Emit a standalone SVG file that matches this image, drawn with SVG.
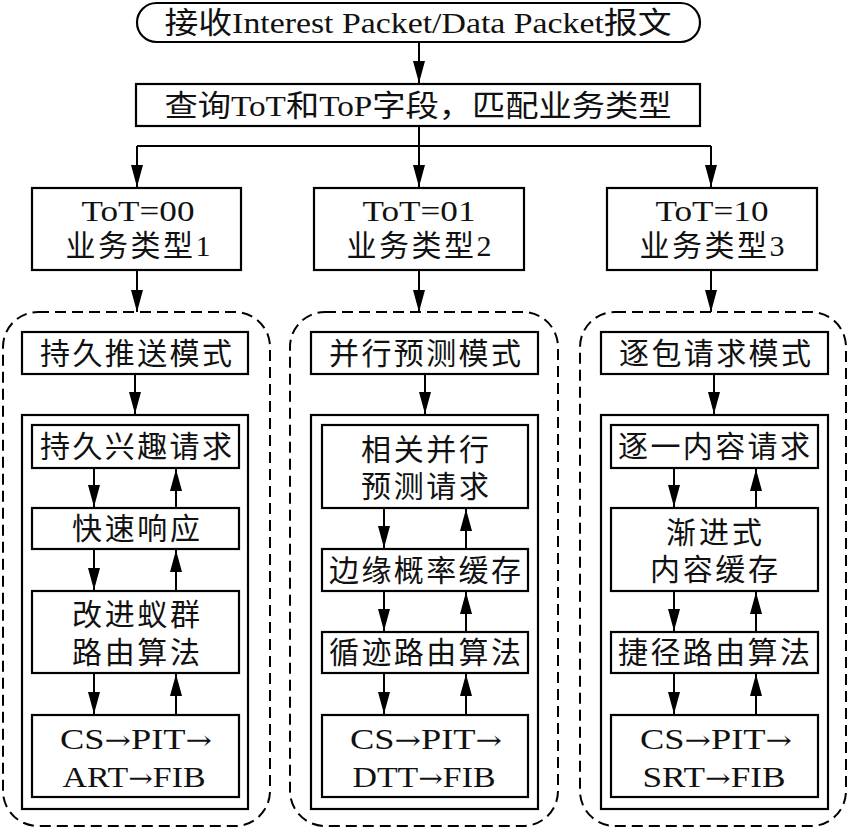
<svg xmlns="http://www.w3.org/2000/svg" width="850" height="830" viewBox="0 0 850 830">
<style>
.b{fill:#fff;stroke:#000;stroke-width:2.2}
.d{fill:none;stroke:#000;stroke-width:2;stroke-dasharray:11 6}
.t{font-family:"Liberation Serif","Noto Sans CJK SC",serif;font-size:30px;fill:#111;text-anchor:middle}
.r{font-family:"DejaVu Serif",serif;font-size:26px}
.c line,.c path{stroke:#000;stroke-width:2;fill:none}
</style>
<defs>
<marker id="a" markerUnits="userSpaceOnUse" markerWidth="22" markerHeight="12" viewBox="0 0 22 12" refX="22" refY="6" orient="auto">
<path d="M0,0 L22,6 L0,12 Z" fill="#000"/>
</marker>
</defs>
<rect width="850" height="830" fill="#fff"/>

<g id="start"><rect class="b" x="137" y="3" width="563" height="39" rx="19.5"/><text class="t" x="418" y="33" textLength="507" lengthAdjust="spacingAndGlyphs">接收Interest Packet/Data Packet报文</text></g>
<g id="query"><rect class="b" x="136" y="84" width="564" height="42"/><text class="t" x="418" y="116" textLength="507" lengthAdjust="spacingAndGlyphs">查询ToT和ToP字段，匹配业务类型</text></g>

<g id="type1"><rect class="b" x="32" y="188" width="209" height="82"/><text class="t" x="138" y="221" textLength="113" lengthAdjust="spacingAndGlyphs">ToT=00</text><text class="t" x="138" y="256" textLength="145">业务类型1</text></g>
<g id="type2"><rect class="b" x="314" y="188" width="210" height="82"/><text class="t" x="419" y="221" textLength="113" lengthAdjust="spacingAndGlyphs">ToT=01</text><text class="t" x="419" y="256" textLength="145">业务类型2</text></g>
<g id="type3"><rect class="b" x="607" y="188" width="210" height="82"/><text class="t" x="712" y="221" textLength="113" lengthAdjust="spacingAndGlyphs">ToT=10</text><text class="t" x="712" y="256" textLength="145">业务类型3</text></g>

<g id="group1"><rect class="d" x="3" y="312" width="267" height="514" rx="35"/></g>
<g id="group2"><rect class="d" x="290" y="312" width="268" height="514" rx="35"/></g>
<g id="group3"><rect class="d" x="580" y="312" width="266" height="514" rx="35"/></g>

<g id="mode1"><rect class="b" x="22" y="332" width="226" height="42"/><text class="t" x="136" y="364" textLength="192">持久推送模式</text></g>
<g id="mode2"><rect class="b" x="311" y="332" width="227" height="42"/><text class="t" x="425" y="364" textLength="192">并行预测模式</text></g>
<g id="mode3"><rect class="b" x="601" y="332" width="227" height="42"/><text class="t" x="715" y="364" textLength="192">逐包请求模式</text></g>

<g id="inner1"><rect class="b" x="22" y="415" width="226" height="394"/></g>
<g id="inner2"><rect class="b" x="311" y="415" width="227" height="394"/></g>
<g id="inner3"><rect class="b" x="601" y="415" width="227" height="394"/></g>

<g id="n1a"><rect class="b" x="32" y="425" width="207" height="43"/><text class="t" x="136" y="457" textLength="192">持久兴趣请求</text></g>
<g id="n1b"><rect class="b" x="32" y="508" width="207" height="41"/><text class="t" x="136" y="539" textLength="128">快速响应</text></g>
<g id="n1c"><rect class="b" x="32" y="591" width="207" height="82"/><text class="t" x="136" y="625" textLength="128">改进蚁群</text><text class="t" x="136" y="663" textLength="128">路由算法</text></g>
<g id="n1d"><rect class="b" x="32" y="715" width="207" height="82"/><text class="t" x="136" y="749" textLength="152" lengthAdjust="spacingAndGlyphs">CS<tspan class="r">→</tspan>PIT<tspan class="r">→</tspan></text><text class="t" x="134" y="787" textLength="143" lengthAdjust="spacingAndGlyphs">ART<tspan class="r">→</tspan>FIB</text></g>

<g id="n2a"><rect class="b" x="322" y="425" width="206" height="83"/><text class="t" x="425" y="460" textLength="128">相关并行</text><text class="t" x="425" y="497" textLength="128">预测请求</text></g>
<g id="n2b"><rect class="b" x="322" y="549" width="206" height="42"/><text class="t" x="425" y="581" textLength="192">边缘概率缓存</text></g>
<g id="n2c"><rect class="b" x="322" y="632" width="206" height="41"/><text class="t" x="425" y="663" textLength="192">循迹路由算法</text></g>
<g id="n2d"><rect class="b" x="322" y="715" width="206" height="82"/><text class="t" x="426" y="749" textLength="152" lengthAdjust="spacingAndGlyphs">CS<tspan class="r">→</tspan>PIT<tspan class="r">→</tspan></text><text class="t" x="424" y="787" textLength="143" lengthAdjust="spacingAndGlyphs">DTT<tspan class="r">→</tspan>FIB</text></g>

<g id="n3a"><rect class="b" x="611" y="425" width="207" height="43"/><text class="t" x="714" y="457" textLength="192">逐一内容请求</text></g>
<g id="n3b"><rect class="b" x="611" y="508" width="207" height="83"/><text class="t" x="714" y="543" textLength="96">渐进式</text><text class="t" x="714" y="580" textLength="128">内容缓存</text></g>
<g id="n3c"><rect class="b" x="611" y="632" width="207" height="41"/><text class="t" x="714" y="663" textLength="192">捷径路由算法</text></g>
<g id="n3d"><rect class="b" x="611" y="715" width="207" height="82"/><text class="t" x="716" y="749" textLength="152" lengthAdjust="spacingAndGlyphs">CS<tspan class="r">→</tspan>PIT<tspan class="r">→</tspan></text><text class="t" x="714" y="787" textLength="143" lengthAdjust="spacingAndGlyphs">SRT<tspan class="r">→</tspan>FIB</text></g>

<g id="connectors" class="c">
<line x1="419" y1="42" x2="419" y2="83" marker-end="url(#a)"/>
<line x1="419" y1="126" x2="419" y2="187" marker-end="url(#a)"/>
<path d="M137,146 H711"/>
<line x1="137" y1="146" x2="137" y2="187" marker-end="url(#a)"/>
<line x1="711" y1="146" x2="711" y2="187" marker-end="url(#a)"/>
<line x1="137" y1="270" x2="137" y2="312" marker-end="url(#a)"/>
<line x1="419" y1="270" x2="419" y2="312" marker-end="url(#a)"/>
<line x1="711" y1="270" x2="711" y2="312" marker-end="url(#a)"/>
<line x1="135" y1="374" x2="135" y2="414" marker-end="url(#a)"/>
<line x1="425" y1="374" x2="425" y2="414" marker-end="url(#a)"/>
<line x1="714" y1="374" x2="714" y2="414" marker-end="url(#a)"/>

<line x1="94" y1="468" x2="94" y2="507" marker-end="url(#a)"/>
<line x1="176" y1="508" x2="176" y2="469" marker-end="url(#a)"/>
<line x1="94" y1="549" x2="94" y2="590" marker-end="url(#a)"/>
<line x1="176" y1="591" x2="176" y2="550" marker-end="url(#a)"/>
<line x1="94" y1="673" x2="94" y2="714" marker-end="url(#a)"/>
<line x1="176" y1="715" x2="176" y2="674" marker-end="url(#a)"/>

<line x1="384" y1="508" x2="384" y2="548" marker-end="url(#a)"/>
<line x1="466" y1="549" x2="466" y2="509" marker-end="url(#a)"/>
<line x1="384" y1="591" x2="384" y2="631" marker-end="url(#a)"/>
<line x1="466" y1="632" x2="466" y2="592" marker-end="url(#a)"/>
<line x1="384" y1="673" x2="384" y2="714" marker-end="url(#a)"/>
<line x1="466" y1="715" x2="466" y2="674" marker-end="url(#a)"/>

<line x1="674" y1="468" x2="674" y2="507" marker-end="url(#a)"/>
<line x1="756" y1="508" x2="756" y2="469" marker-end="url(#a)"/>
<line x1="674" y1="591" x2="674" y2="631" marker-end="url(#a)"/>
<line x1="756" y1="632" x2="756" y2="592" marker-end="url(#a)"/>
<line x1="674" y1="673" x2="674" y2="714" marker-end="url(#a)"/>
<line x1="756" y1="715" x2="756" y2="674" marker-end="url(#a)"/>
</g>
</svg>
